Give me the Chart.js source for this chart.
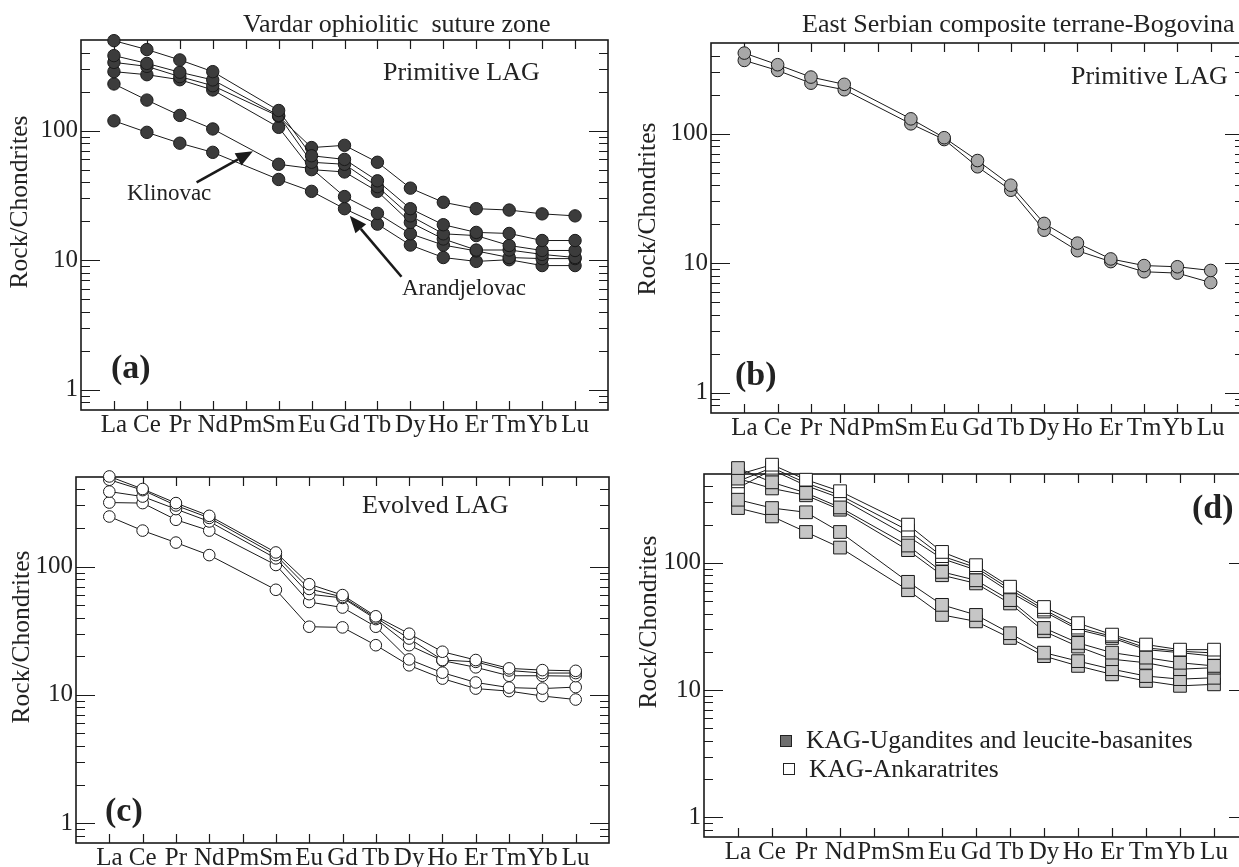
<!DOCTYPE html>
<html>
<head>
<meta charset="utf-8">
<script src="https://cdn.jsdelivr.net/npm/chart.js@4.4.1/dist/chart.umd.min.js"></script>
<style>
  html, body { margin: 0; padding: 0; background: #fff; }
  body { width: 1239px; height: 867px; overflow: hidden; position: relative;
         font-family: 'Liberation Serif', 'Times New Roman', serif; color: #222; }
  canvas { position: absolute; }
  .t { position: absolute; font-size: 26px; line-height: 26px; white-space: pre; }
  .s { font-size: 23px; line-height: 23px; }
  .lg { font-size: 25.5px; line-height: 25.5px; }
  .b { font-weight: bold; font-size: 34px; line-height: 34px; }
  .yt { position: absolute; font-size: 25.5px; line-height: 25.5px; white-space: pre;
        transform: translate(-50%, -50%) rotate(-90deg); }
  .sw { position: absolute; box-sizing: border-box; border: 1px solid #222; width: 12px; height: 12px; }
</style>
</head>
<body>
<canvas id="pa"></canvas>
<canvas id="pb"></canvas>
<canvas id="pc"></canvas>
<canvas id="pd"></canvas>

<div class="t" style="left:243px;top:11px">Vardar ophiolitic  suture zone</div>
<div class="t" style="left:802px;top:11px">East Serbian composite terrane-Bogovina</div>
<div class="t" style="left:383px;top:59px">Primitive LAG</div>
<div class="t" style="left:1071px;top:63px">Primitive LAG</div>
<div class="t" style="left:362px;top:492px">Evolved LAG</div>
<div class="t s" style="left:127px;top:181px">Klinovac</div>
<div class="t s" style="left:402px;top:276px">Arandjelovac</div>
<div class="t b" style="left:111px;top:350px">(a)</div>
<div class="t b" style="left:735px;top:357px">(b)</div>
<div class="t b" style="left:105px;top:793px">(c)</div>
<div class="t b" style="left:1192px;top:490px">(d)</div>
<div class="yt" style="left:19px;top:202px">Rock/Chondrites</div>
<div class="yt" style="left:647px;top:209px">Rock/Chondrites</div>
<div class="yt" style="left:21px;top:637px">Rock/Chondrites</div>
<div class="yt" style="left:648px;top:622px">Rock/Chondrites</div>
<div class="sw" style="left:780px;top:735px;background:#6f6f6f"></div>
<div class="t lg" style="left:806px;top:727px">KAG-Ugandites and leucite-basanites</div>
<div class="sw" style="left:783px;top:763px;background:#fff"></div>
<div class="t lg" style="left:809px;top:756px">KAG-Ankaratrites</div>

<script>
// Rare earth elements, chondrite-normalised (Pm not analysed)
const ELEMENTS = ['La','Ce','Pr','Nd','Pm','Sm','Eu','Gd','Tb','Dy','Ho','Er','Tm','Yb','Lu'];
const Y_LABELS = [1, 10, 100];

// (a) Vardar zone, primitive LAG
const vardarA1 = [494, 422, 351, 285, null, 143, 64, 60, 41, 25, 18.8, 16.4, 16.1, 14.2, 14.2];
const vardarA2 = [379, 330, 282, 246, null, 131, 57, 55, 37, 22, 16, 15.5, 13, 11.9, 11.9];
const vardarA3 = [336, 313, 261, 222, null, 129, 74, 77, 57, 36, 28, 25, 24.4, 22.8, 22];
const vardarA4 = [285, 270, 247, 206, null, 106, 50, 48, 34, 19.6, 14.6, 12, 12, 11.1, 10.5];
const klinovac = [229, 172, 131, 103, null, 55, 51, 31, 23, 16, 13.1, 11.8, 10.5, 10.3, 10.3];
const arandjelovac = [119, 97, 80, 68, null, 42, 34, 25, 19, 13.1, 10.5, 9.8, 10.1, 9.1, 9.1];

// (b) East Serbian composite terrane, Bogovina
const bogovina1 = [418, 340, 273, 240, null, 130, 93, 62, 40, 20.3, 14.3, 10.8, 9.6, 9.4, 8.8];
const bogovina2 = [367, 307, 245, 218, null, 119, 90, 55.5, 36.6, 18, 12.5, 10.3, 8.6, 8.4, 7.1];

// (c) evolved LAG
const evolved1 = [505, 403, 313, 249, null, 129, 73, 60, 41, 30, 21.7, 18.7, 16.1, 15.6, 15.4];
const evolved2 = [476, 395, 300, 240, null, 123, 67, 58, 40, 27.5, 18.7, 18.1, 15.5, 14.8, 14.8];
const evolved3 = [385, 352, 281, 225, null, 116, 61, 57, 39, 24.4, 18.5, 16.4, 14.1, 14.1, 14];
const evolved4 = [316, 313, 232, 191, null, 103, 53, 48, 34, 18.9, 14.9, 12.5, 11.4, 11.2, 11.5];
const evolved5 = [246, 191, 154, 123, null, 66, 34, 33.6, 24.4, 17, 13.4, 11.2, 10.7, 9.8, 9.2];

// (d) KAG: ugandites / leucite-basanites and ankaratrites
const ugandite1 = [557, 430, 355, 273, null, 137, 85, 73, 51, 30.8, 23.5, 19.7, 18, 16.4, 15.5];
const ugandite2 = [460, 385, 340, 262, null, 126, 80, 69, 48, 29, 22, 17.5, 16.4, 14.6, 15];
const ugandite3 = [314, 270, 250, 175, null, 71, 46.8, 39, 28, 19.7, 16.9, 14.6, 12.9, 12.2, 12.5];
const ugandite4 = [270, 232, 175, 132, null, 61, 39, 34.7, 25.7, 18.5, 15.5, 13.3, 11.8, 10.8, 11.1];
const ankaratrite1 = [494, 592, 451, 366, null, 200, 122, 96, 65, 45, 33.6, 27.3, 22.8, 20.8, 20.8];
const ankaratrite2 = [438, 560, 425, 340, null, 180, 113, 92, 62, 43, 31, 26.5, 21.5, 20.2, 19.6];
const ankaratrite3 = [388, 540, 405, 324, null, 162, 108, 88, 59, 41.5, 29.9, 25.7, 20.8, 19.7, 18.5];

Chart.defaults.font.family = "'Liberation Serif', 'Times New Roman', serif";
Chart.defaults.color = '#222';

const INK = '#1a1a1a';
const X_AXIS_H = 36;

// marker styles
const DARK_DOT  = { fill: '#3c3c3c', radius: 6.2, style: 'circle' };
const GREY_DOT  = { fill: '#a8a8a8', radius: 6.3, style: 'circle' };
const OPEN_DOT  = { fill: '#ffffff', radius: 5.8, style: 'circle' };
const GREY_BOX  = { fill: '#c6c6c6', radius: 9,   style: 'rect' };
const OPEN_BOX  = { fill: '#ffffff', radius: 9,   style: 'rect' };

function series(values, m) {
  return {
    data: values.map((v, i) => (v == null ? null : { x: i, y: v })).filter(Boolean),
    borderColor: INK, borderWidth: 1, tension: 0, fill: false,
    pointRadius: m.radius, pointStyle: m.style,
    pointBackgroundColor: m.fill, pointBorderColor: INK, pointBorderWidth: 1,
    clip: false
  };
}

// inward tick marks on all four sides plus the frame
const MINOR = [];
[0.1, 1, 10, 100].forEach(d => { for (let k = 2; k <= 9; k++) MINOR.push(k * d); });
const frameTicks = {
  id: 'frameTicks',
  beforeDatasetsDraw(chart) {
    const { ctx, chartArea: a, scales: { x, y } } = chart;
    ctx.save();
    ctx.strokeStyle = INK;
    ctx.lineWidth = 1.2;
    ctx.beginPath();
    ELEMENTS.forEach((_, i) => {
      const px = Math.round(x.getPixelForValue(i)) + 0.5;
      ctx.moveTo(px, a.bottom); ctx.lineTo(px, a.bottom - 9);
      ctx.moveTo(px, a.top);    ctx.lineTo(px, a.top + 9);
    });
    const yTick = (v, len) => {
      const py = Math.round(y.getPixelForValue(v)) + 0.5;
      if (py <= a.top + 1 || py >= a.bottom - 1) return;
      ctx.moveTo(a.left, py);  ctx.lineTo(a.left + len, py);
      ctx.moveTo(a.right, py); ctx.lineTo(a.right - len, py);
    };
    Y_LABELS.forEach(v => yTick(v, 19));
    MINOR.forEach(v => yTick(v, 9));
    ctx.stroke();
    ctx.lineWidth = 1.6;
    ctx.strokeRect(a.left, a.top, a.right - a.left, a.bottom - a.top);
    ctx.restore();
  }
};

// arrows pointing at labelled sample lines, given in data coordinates
const arrowPlugin = {
  id: 'arrows',
  afterDatasetsDraw(chart, args, opts) {
    const list = opts.items || [];
    if (!list.length) return;
    const { ctx, scales: { x, y } } = chart;
    ctx.save();
    ctx.strokeStyle = INK; ctx.fillStyle = INK; ctx.lineWidth = 2.6;
    list.forEach(({ from, to }) => {
      const x0 = x.getPixelForValue(from[0]), y0 = y.getPixelForValue(from[1]);
      const x1 = x.getPixelForValue(to[0]),   y1 = y.getPixelForValue(to[1]);
      const ang = Math.atan2(y1 - y0, x1 - x0);
      const head = 17, half = 7;
      const bx = x1 - head * Math.cos(ang), by = y1 - head * Math.sin(ang);
      ctx.beginPath(); ctx.moveTo(x0, y0); ctx.lineTo(bx, by); ctx.stroke();
      ctx.beginPath();
      ctx.moveTo(x1, y1);
      ctx.lineTo(bx + half * Math.sin(ang), by - half * Math.cos(ang));
      ctx.lineTo(bx - half * Math.sin(ang), by + half * Math.cos(ang));
      ctx.closePath(); ctx.fill();
    });
    ctx.restore();
  }
};

function makePanel(id, canvasBox, area, datasets, arrows) {
  const [cx, cy, cw, ch] = canvasBox;
  const [L, T, R, B] = area;
  const el = document.getElementById(id);
  el.width = cw; el.height = ch;
  el.style.left = cx + 'px'; el.style.top = cy + 'px';
  el.style.width = cw + 'px'; el.style.height = ch + 'px';
  const yAxisW = L - cx;
  new Chart(el, {
    type: 'line',
    data: { datasets },
    plugins: [frameTicks, arrowPlugin],
    options: {
      responsive: false, animation: false, events: [],
      layout: { padding: { left: 0, top: T - cy, right: cx + cw - R, bottom: cy + ch - B - X_AXIS_H } },
      plugins: { legend: { display: false }, tooltip: { enabled: false }, arrows: { items: arrows || [] } },
      scales: {
        x: {
          type: 'linear', min: -1, max: 15,
          grid: { display: false, drawTicks: false }, border: { display: false },
          afterBuildTicks: s => { s.ticks = Array.from({ length: 17 }, (_, k) => ({ value: k - 1 })); },
          ticks: { autoSkip: false, maxRotation: 0, minRotation: 0, padding: 0, color: '#222',
                   font: { size: 25 }, callback: v => ELEMENTS[v] ?? '' },
          afterFit: s => { s.height = X_AXIS_H; }
        },
        y: {
          type: 'logarithmic', min: 0.7, max: 500,
          grid: { display: false, drawTicks: false }, border: { display: false },
          afterBuildTicks: s => { s.ticks = Y_LABELS.map(v => ({ value: v })); },
          ticks: { autoSkip: false, padding: 3, color: '#222', font: { size: 25 },
                   callback: v => String(v) },
          afterFit: s => { s.width = yAxisW; }
        }
      }
    }
  });
}

makePanel('pa', [0, 0, 640, 460], [81, 40, 608, 410], [
  series(vardarA1, DARK_DOT), series(vardarA2, DARK_DOT), series(vardarA3, DARK_DOT),
  series(vardarA4, DARK_DOT), series(klinovac, DARK_DOT), series(arandjelovac, DARK_DOT)
], [
  { from: [2.51, 39.9], to: [4.22, 69.4] },
  { from: [8.73, 7.46], to: [7.16, 22] }
]);

makePanel('pb', [620, 0, 660, 460], [711, 43, 1244, 413], [
  series(bogovina1, GREY_DOT), series(bogovina2, GREY_DOT)
]);

makePanel('pc', [0, 440, 640, 445], [76, 477, 609, 843], [
  series(evolved1, OPEN_DOT), series(evolved2, OPEN_DOT), series(evolved3, OPEN_DOT),
  series(evolved4, OPEN_DOT), series(evolved5, OPEN_DOT)
]);

makePanel('pd', [620, 440, 660, 445], [704, 474, 1248, 837], [
  series(ugandite1, GREY_BOX), series(ugandite2, GREY_BOX), series(ugandite3, GREY_BOX),
  series(ugandite4, GREY_BOX),
  series(ankaratrite1, OPEN_BOX), series(ankaratrite2, OPEN_BOX), series(ankaratrite3, OPEN_BOX)
]);
</script>
</body>
</html>
